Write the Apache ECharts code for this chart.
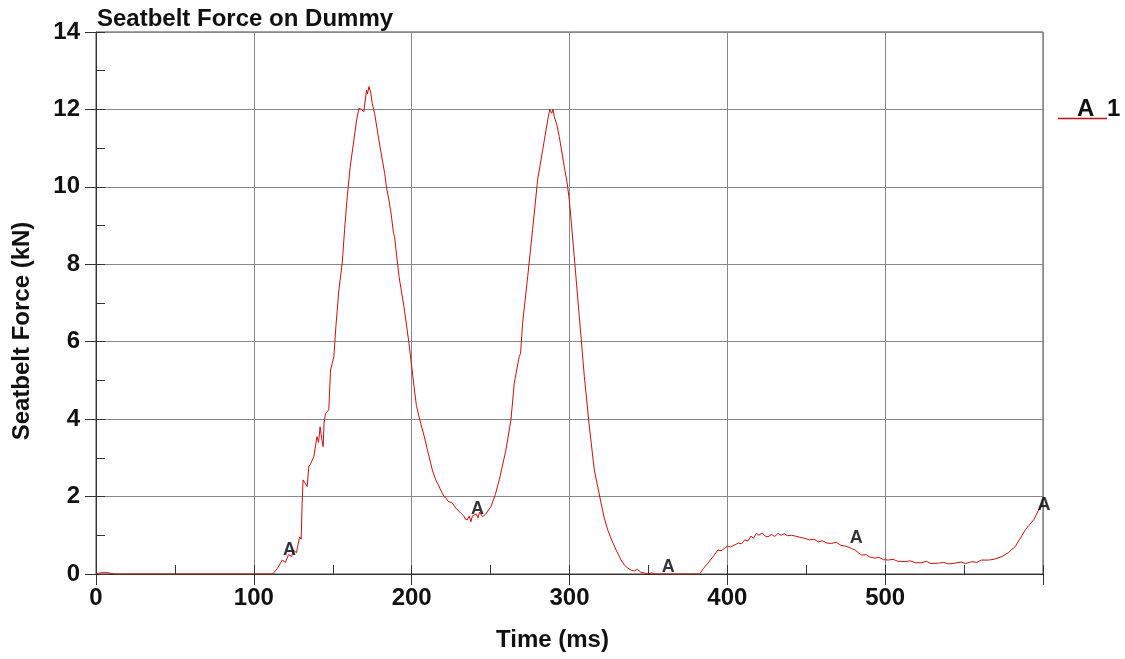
<!DOCTYPE html>
<html>
<head>
<meta charset="utf-8">
<script src="https://cdn.jsdelivr.net/npm/echarts@6/dist/echarts.min.js"></script>
<style>
html,body{margin:0;padding:0;background:#fff;}
#chart{width:1125px;height:659px;}
</style>
</head>
<body>
<div id="chart"></div>
<script>
// Time (ms) samples
var times = [0,3,6,9,12,50,100,112,115,118,120,122,124,125,127,129,130,130.6,131.2,133.8,134.8,136,138,140,141,142,143,143.9,144.5,145.4,147.5,148.6,150.7,152,153.9,156,157.5,159.2,161,163.4,165,166.6,168,169.7,171.4,172,172.9,174,175,176.5,178.2,179,180.3,181,182.9,184,185.6,187,188.5,189.2,190,192,195.1,198.3,201.5,203,205.7,208,210,213.1,215.2,217,218,220.5,222,223,225.8,228,231.1,233,234,235.3,236.5,237.5,238.5,239.6,241,242,243,244.9,247,250.2,253,255.5,259.7,262.9,265,268.1,269,270.3,273.5,276.6,279.8,283,286.2,287.5,288.7,289.5,290.4,292,293.5,296.7,298.5,299.9,303,306.2,309.4,312.6,315.7,320,322,324.2,327,329.5,332.7,334.8,337,339,341,343,345,348,350,352,354,382.4,385,387.7,391,394,396,398.3,400,402,404.7,407,409,411,413,415,416.5,418.4,420,422,424,425.8,428,430,432.2,434,436,438,440.6,443,446,449.1,452,455,457.6,460,463,466,469,472,475,478.7,481,483,485.1,488,490,493.5,496,499,502,505,508,512.6,516,519,523.2,526,529,533.8,537,540,544.3,548,551,555,558,561,565.5,569,574,578,582.4,585,588.8,591,594.1,596,598.3,600];
// Seatbelt force (kN) samples
var forces = [0,0.03,0.04,0.02,0,0,0,0,0.15,0.36,0.3,0.5,0.45,0.62,0.55,0.96,0.9,1.83,2.43,2.26,2.77,2.85,3.03,3.55,3.4,3.8,3.5,3.29,3.9,4.15,4.24,5.27,5.61,6.4,7.34,8.03,8.9,9.75,10.5,11.21,11.7,12.03,12.0,11.94,12.5,12.4,12.59,12.45,12.16,11.9,11.47,11.5,10.95,11.0,10.35,10.0,9.66,9.3,8.8,8.71,8.4,7.68,6.91,5.96,4.84,4.35,3.89,3.55,3.2,2.69,2.43,2.3,2.2,2.0,1.95,1.88,1.83,1.7,1.57,1.5,1.42,1.40,1.5,1.35,1.5,1.48,1.55,1.45,1.6,1.48,1.55,1.74,2.05,2.43,3.2,3.98,4.93,5.61,5.7,6.48,7.68,8.89,10.18,10.95,11.73,12.0,11.9,12.0,11.81,11.6,11.3,10.52,10.1,9.66,8.2,6.65,5.1,3.8,2.69,1.83,1.45,1.14,0.85,0.62,0.36,0.23,0.15,0.10,0.08,0.12,0.05,0.02,0,0.03,0,0,0.15,0.28,0.45,0.62,0.6,0.66,0.72,0.7,0.75,0.8,0.78,0.88,0.85,0.98,0.92,1.05,1.0,1.06,0.98,0.96,1.02,0.97,1.05,1.0,1.04,0.99,1.0,0.98,0.95,0.92,0.88,0.9,0.83,0.86,0.8,0.79,0.82,0.74,0.72,0.66,0.62,0.55,0.49,0.5,0.44,0.41,0.43,0.37,0.36,0.38,0.33,0.32,0.34,0.29,0.29,0.33,0.27,0.28,0.3,0.26,0.28,0.31,0.27,0.32,0.3,0.36,0.36,0.38,0.45,0.55,0.71,0.88,1.14,1.25,1.4,1.55,1.74,1.85];
// "A" marker positions
var markerTimes = [122, 241, 362, 481, 600];
var markerForces = [0.5, 1.55, 0.05, 0.8, 1.65];
var markerText = 'A';
var seriesName = '1';
var xTicks = [0, 100, 200, 300, 400, 500];
var yTicks = [0, 2, 4, 6, 8, 10, 12, 14];

var lineData = times.map(function (t, i) { return [t, forces[i]]; });
var markData = markerTimes.map(function (t, i) { return [t, markerForces[i]]; });

var FONT = 'Liberation Sans, Arial, sans-serif';
var chart = echarts.init(document.getElementById('chart'), null, { renderer: 'canvas' });
var grid = { left: 96, top: 32, right: 82, bottom: 85, show: true, borderColor: '#444', borderWidth: 1, containLabel: false };

var option = {
  animation: false,
  backgroundColor: '#fff',
  title: {
    text: 'Seatbelt Force on Dummy',
    left: 92, top: 2,
    textStyle: { fontFamily: FONT, fontWeight: 'bold', fontSize: 24, color: '#111' }
  },
  grid: grid,
  xAxis: [{
    type: 'value', min: 0, max: 600, interval: 100,
    name: 'Time (ms)', nameLocation: 'middle', nameGap: 54,
    nameTextStyle: { fontFamily: FONT, fontWeight: 'bold', fontSize: 24, color: '#111', padding: [0, 34, 0, 0] },
    axisLine: { show: true, onZero: false, lineStyle: { color: '#333', width: 1 } },
    axisTick: { show: true, inside: false, length: 11, lineStyle: { color: '#333' } },
    axisLabel: {
      fontFamily: FONT, fontWeight: 'bold', fontSize: 24, color: '#111', margin: 12,
      formatter: function (v) { return xTicks.indexOf(v) >= 0 ? String(v) : ''; }
    },
    splitLine: { show: true, lineStyle: { color: '#888', width: 1 } }
  }, {
    type: 'value', min: 0, max: 600, interval: 50, position: 'bottom',
    axisLine: { show: false }, axisLabel: { show: false }, splitLine: { show: false },
    axisTick: { show: true, inside: true, length: 9, lineStyle: { color: '#333' } }
  }],
  yAxis: [{
    type: 'value', min: 0, max: 14, interval: 2,
    name: 'Seatbelt Force (kN)', nameLocation: 'middle', nameGap: 62, nameRotate: 90,
    nameTextStyle: { fontFamily: FONT, fontWeight: 'bold', fontSize: 24, color: '#111', padding: [0, 56, 0, 0] },
    axisLine: { show: true, onZero: false, lineStyle: { color: '#333', width: 1 } },
    axisTick: { show: true, inside: false, length: 11, lineStyle: { color: '#333' } },
    axisLabel: {
      fontFamily: FONT, fontWeight: 'bold', fontSize: 24, color: '#111', margin: 16,
      formatter: function (v) { return yTicks.indexOf(v) >= 0 ? String(v) : ''; }
    },
    splitLine: { show: true, lineStyle: { color: '#888', width: 1 } }
  }, {
    type: 'value', min: 0, max: 14, interval: 1, position: 'left',
    axisLine: { show: false }, axisLabel: { show: false }, splitLine: { show: false },
    axisTick: { show: true, inside: true, length: 9, lineStyle: { color: '#333' } }
  }],
  legend: { show: false },
  series: [{
    name: seriesName,
    type: 'line',
    data: lineData,
    xAxisIndex: 0, yAxisIndex: 0,
    showSymbol: false,
    symbol: 'none',
    lineStyle: { color: '#c81010', width: 1 },
    z: 3
  }, {
    name: 'markers',
    type: 'scatter',
    data: markData,
    xAxisIndex: 0, yAxisIndex: 0,
    symbolSize: 1,
    itemStyle: { color: 'rgba(0,0,0,0)' },
    label: {
      show: true, position: 'inside', offset: [1, -5],
      formatter: markerText,
      fontFamily: FONT, fontWeight: 'bold', fontSize: 18, color: '#000'
    },
    z: 4
  }],
  graphic: [{
    type: 'line', shape: { x1: 1058, y1: 118.5, x2: 1107, y2: 118.5 },
    style: { stroke: '#c81010', lineWidth: 1.5 }
  }, {
    type: 'text', left: 1077, top: 97,
    style: { text: markerText, font: 'bold 24px ' + FONT, fill: '#111' }
  }, {
    type: 'text', left: 1107, top: 97,
    style: { text: seriesName, font: 'bold 24px ' + FONT, fill: '#111' }
  }]
};
chart.setOption(option);
</script>
</body>
</html>
